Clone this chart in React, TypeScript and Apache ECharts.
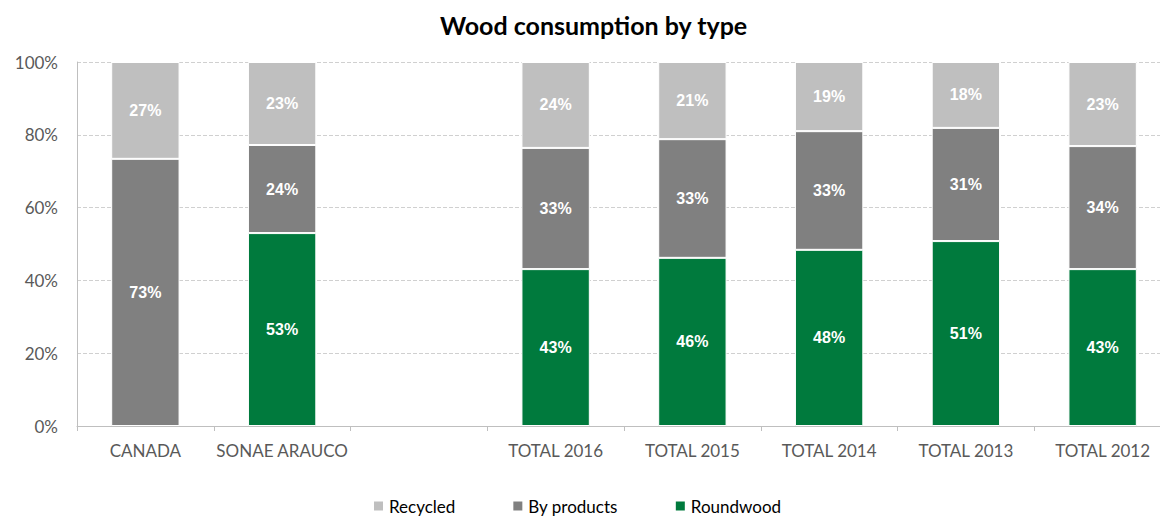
import React, { useEffect, useRef } from "react";
import * as echarts from "echarts";

const categories = ["CANADA", "SONAE ARAUCO", "", "TOTAL 2016", "TOTAL 2015", "TOTAL 2014", "TOTAL 2013", "TOTAL 2012"];
const roundwood = [null, 53.0, null, 43.1, 46.2, 48.4, 50.8, 43.1];
const byProducts = [73.4, 24.2, null, 33.3, 32.6, 32.6, 31.1, 33.8];
const recycled = [26.6, 22.8, null, 23.6, 21.2, 19.0, 18.1, 23.1];
const yTicks = [0, 20, 40, 60, 80, 100];

export default function App() {
  const ref = useRef<HTMLDivElement>(null);
  useEffect(() => {
    if (!ref.current) return;
    const chart = echarts.init(ref.current, null, { renderer: "svg" });
    const label = {
      show: true,
      position: "inside",
      color: "#ffffff",
      fontFamily: "Liberation Sans, Arial",
      fontWeight: "bold",
      fontSize: 16,
      formatter: (p: any) => (p.value == null || p.value === 0 ? "" : Math.round(p.value) + "%"),
    };
    const mk = (name: string, data: any[], color: string) => ({
      name,
      type: "bar",
      stack: "total",
      data,
      barWidth: "50%",
      itemStyle: { color, borderColor: "#ffffff", borderWidth: 1 },
      label,
    });
    chart.setOption({
      animation: false,
      title: {
        text: "Wood consumption by type",
        left: 435,
        top: 7,
        textStyle: { fontFamily: "Lato, Open Sans, sans-serif", fontWeight: "bold", fontSize: 25, color: "#000" },
      },
      legend: {
        data: ["Recycled", "By products", "Roundwood"],
        top: 497,
        left: 372,
        padding: 0,
        itemWidth: 11,
        itemHeight: 11,
        itemGap: 56,
        icon: "rect",
        textStyle: { fontFamily: "Lato, Open Sans, sans-serif", fontSize: 17, lineHeight: 18, color: "#000" },
      },
      grid: { left: 77, top: 62, width: 1094, height: 364 },
      xAxis: {
        type: "category",
        data: categories,
        axisLine: { show: true, lineStyle: { color: "#BFBFBF" } },
        axisTick: { show: true, length: 5, lineStyle: { color: "#BFBFBF" } },
        axisLabel: { interval: 0, fontFamily: "Lato, Open Sans, sans-serif", fontSize: 17, color: "#595959", margin: 16 },
      },
      yAxis: {
        type: "value",
        min: 0,
        max: 100,
        interval: 20,
        axisLine: { show: true, lineStyle: { color: "#BFBFBF" } },
        axisTick: { show: false },
        splitLine: { lineStyle: { color: "#D0D0D0", type: "dashed" } },
        axisLabel: {
          fontFamily: "Lato, Open Sans, sans-serif",
          fontSize: 17,
          color: "#595959",
          margin: 19,
          formatter: (v: number) => (yTicks.includes(v) ? v + "%" : ""),
        },
      },
      series: [
        mk("Roundwood", roundwood, "#007A3D"),
        mk("By products", byProducts, "#808080"),
        mk("Recycled", recycled, "#BFBFBF"),
      ],
    });
    return () => chart.dispose();
  }, []);
  return (
    <div style={{ position: "absolute", left: 0, top: 0, width: 1160, height: 520, overflow: "hidden", background: "#fff" }}>
      <div ref={ref} style={{ width: 1180, height: 520 }} />
    </div>
  );
}
